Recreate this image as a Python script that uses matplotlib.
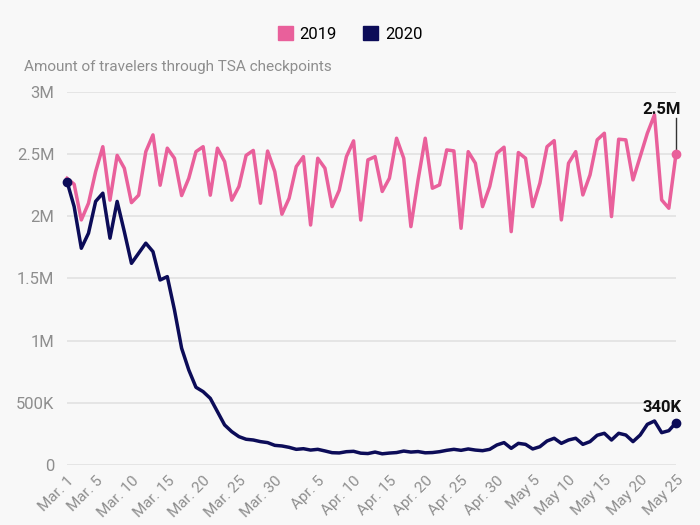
import matplotlib
matplotlib.use("Agg")
import matplotlib.pyplot as plt
from matplotlib.patches import Patch
from matplotlib.ticker import FuncFormatter

#travelers per day, Mar 1 - May 25 (millions)
travel_2019 = [2.306, 2.258, 1.971, 2.105, 2.36, 2.56, 2.13, 2.49, 2.387, 2.11,
               2.17, 2.52, 2.655, 2.25, 2.548, 2.467, 2.167, 2.306, 2.52, 2.56,
               2.17, 2.548, 2.44, 2.13, 2.24, 2.49, 2.53, 2.105, 2.525, 2.36,
               2.017, 2.145, 2.40, 2.48, 1.93, 2.467, 2.387, 2.078, 2.21, 2.48,
               2.607, 1.97, 2.454, 2.48, 2.2, 2.306, 2.628, 2.467, 1.917, 2.293,
               2.628, 2.226, 2.253, 2.534, 2.526, 1.904, 2.52, 2.427, 2.078, 2.24,
               2.507, 2.556, 1.877, 2.513, 2.467, 2.078, 2.266, 2.56, 2.609, 1.971,
               2.427, 2.52, 2.172, 2.333, 2.615, 2.668, 1.998, 2.62, 2.615, 2.293,
               2.48, 2.668, 2.816, 2.132, 2.065, 2.50]
travel_2020 = [2.28, 2.078, 1.743, 1.864, 2.12, 2.186, 1.824, 2.12, 1.877, 1.622,
               1.703, 1.784, 1.716, 1.488, 1.515, 1.247, 0.939, 0.764, 0.625, 0.59,
               0.536, 0.429, 0.322, 0.268, 0.228, 0.207, 0.201, 0.188, 0.18, 0.158,
               0.153, 0.142, 0.126, 0.131, 0.12, 0.126, 0.113, 0.099, 0.097, 0.107,
               0.11, 0.095, 0.092, 0.104, 0.09, 0.096, 0.1, 0.112, 0.104, 0.108,
               0.098, 0.1, 0.107, 0.118, 0.126, 0.118, 0.129, 0.12, 0.115, 0.126,
               0.161, 0.18, 0.134, 0.174, 0.166, 0.129, 0.147, 0.193, 0.215, 0.174,
               0.201, 0.215, 0.166, 0.188, 0.239, 0.255, 0.201, 0.255, 0.241, 0.188,
               0.241, 0.327, 0.354, 0.26, 0.276, 0.34]
days = list(range(len(travel_2019)))

tick_days = [0, 4, 9, 14, 19, 24, 29, 35, 40, 45, 50, 55, 60, 65, 70, 75, 80, 85]
tick_labels = ['Mar. 1', 'Mar. 5', 'Mar. 10', 'Mar. 15', 'Mar. 20', 'Mar. 25', 'Mar. 30',
               'Apr. 5', 'Apr. 10', 'Apr. 15', 'Apr. 20', 'Apr. 25', 'Apr. 30',
               'May 5', 'May 10', 'May 15', 'May 20', 'May 25']
end_labels = ['2.5M', '340K']

pink = '#e9609b'
navy = '#0c0c58'
bg = '#f8f8f8'
grey = '#8e8e8e'

plt.rcParams['font.family'] = ['Roboto', 'DejaVu Sans']

fig = plt.figure(figsize=(7, 5.25), dpi=100, facecolor=bg)
ax = fig.add_axes([0.0957, 0.1143, 0.870, 0.7105], facecolor=bg)

ax.plot(days, [v * 1e6 for v in travel_2019], color=pink, lw=2.5, clip_on=False, zorder=3)
ax.plot(days, [v * 1e6 for v in travel_2020], color=navy, lw=2.5, clip_on=False, zorder=4)
ax.plot(days[-1], travel_2019[-1] * 1e6, 'o', color=pink, ms=6, clip_on=False, zorder=5)
ax.plot(days[0], travel_2020[0] * 1e6, 'o', color=navy, ms=6, clip_on=False, zorder=5)
ax.plot(days[-1], travel_2020[-1] * 1e6, 'o', color=navy, ms=6, clip_on=False, zorder=5)

#end labels
ax.plot([days[-1], days[-1]], [travel_2019[-1] * 1e6, 2.79e6], color='#333333', lw=1, zorder=2, clip_on=False)
ax.text(days[-1] - 2, 2.8e6, end_labels[0], ha='center', va='bottom', fontsize=12,
        fontweight='bold', color='#111111')
ax.text(days[-1] - 2, 0.4e6, end_labels[1], ha='center', va='bottom', fontsize=12,
        fontweight='bold', color='#111111')

ax.set_xlim(0, 85)
ax.set_ylim(0, 3e6)
ax.set_yticks([0, 0.5e6, 1e6, 1.5e6, 2e6, 2.5e6, 3e6])
ax.yaxis.set_major_formatter(FuncFormatter(
    lambda v, p: '0' if v == 0 else (f'{v/1e6:g}M' if v >= 1e6 else f'{v/1e3:g}K')))
ax.set_xticks(tick_days)
ax.set_xticklabels(tick_labels, rotation=45, ha='right', va='top', rotation_mode='anchor')
ax.tick_params(axis='both', length=0, colors=grey, labelsize=11)
ax.tick_params(axis='y', pad=9, labelsize=12)
ax.tick_params(axis='x', pad=6)
ax.grid(axis='y', color='#e2e2e2', lw=1.2)
ax.set_axisbelow(True)
for s in ax.spines.values():
    s.set_visible(False)

fig.text(0.034, 1 - 67 / 525, 'Amount of travelers through TSA checkpoints',
         fontsize=11, color=grey, va='center')

handles = [Patch(color=pink, label='2019'), Patch(color=navy, label='2020')]
fig.legend(handles=handles, loc='center', bbox_to_anchor=(0.5, 1 - 34 / 525), ncol=2,
           frameon=False, fontsize=12, handlelength=0.9, handleheight=0.9,
           handletextpad=0.4, columnspacing=1.6)

fig.savefig('out.png', dpi=100, facecolor=bg)
